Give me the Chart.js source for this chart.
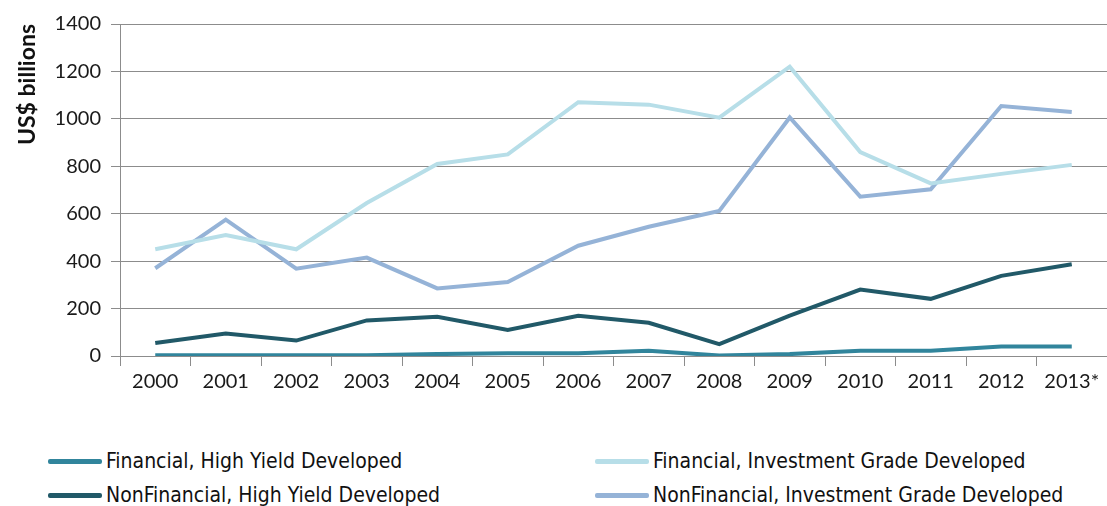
<!DOCTYPE html>
<html>
<head>
<meta charset="utf-8">
<script src="https://cdn.jsdelivr.net/npm/chart.js@4"></script>
<style>
  body { margin: 0; background: #fff; }
  #wrap { position: relative; width: 1107px; height: 506px; overflow: hidden; }
  #chart-box { position: absolute; left: 0; top: 0; width: 1107px; height: 410px; }
  .leg { position: absolute; display: flex; align-items: center; font-family: "Liberation Sans Narrow", "DejaVu Sans Condensed", sans-serif; font-size: 21px; color: #111; white-space: nowrap; }
  .leg span.mark { display: inline-block; width: 54px; height: 5px; border-radius: 2px; margin-right: 4px; }
</style>
</head>
<body>
<div id="wrap">
  <div id="chart-box"><canvas id="bonds"></canvas></div>
  <div id="legend"></div>
</div>
<script>
// categories + series (US$ billions)
const years = ['2000','2001','2002','2003','2004','2005','2006','2007','2008','2009','2010','2011','2012','2013*'];
const finHY = [3, 3, 3, 3, 8, 12, 12, 22, 2, 8, 22, 22, 40, 40];
const finIG = [450, 510, 450, 645, 810, 850, 1070, 1060, 1005, 1220, 860, 728, 768, 806];
const nonfinHY = [55, 95, 65, 150, 165, 110, 170, 140, 50, 170, 280, 241, 338, 387];
const nonfinIG = [370, 575, 368, 415, 285, 312, 465, 545, 612, 1006, 672, 703, 1054, 1029];
const yTicks = [0, 200, 400, 600, 800, 1000, 1200, 1400];

const seriesNames = [
  'Financial, High Yield Developed',
  'Financial, Investment Grade Developed',
  'NonFinancial, High Yield Developed',
  'NonFinancial, Investment Grade Developed'
];
const seriesColors = ['#31859c', '#b7dee8', '#215968', '#95b3d7'];
const seriesData = [finHY, finIG, nonfinHY, nonfinIG];

const gridGray = '#8c8c8c';
const tickFont = { family: 'Lato, "Open Sans", sans-serif', size: 20 };

const ctx = document.getElementById('bonds');
const chart = new Chart(ctx, {
  type: 'line',
  data: {
    labels: years,
    datasets: seriesData.map((d, i) => ({
      label: seriesNames[i],
      data: d,
      borderColor: seriesColors[i],
      backgroundColor: seriesColors[i],
      borderWidth: 4,
      pointRadius: 0,
      tension: 0,
      order: i === 0 ? 0 : 1
    }))
  },
  options: {
    responsive: true,
    maintainAspectRatio: false,
    animation: false,
    layout: { padding: { top: 24, right: 0, left: 0, bottom: 0 } },
    plugins: {
      legend: { display: false },
      tooltip: { enabled: false }
    },
    scales: {
      x: {
        offset: true,
        grid: { display: true, drawOnChartArea: false, offset: true, color: gridGray, tickLength: 10 },
        border: { display: false },
        ticks: { font: tickFont, color: '#1a1a1a', padding: 4, maxRotation: 0, autoSkip: false },
        afterFit: s => { s.height = 54; }
      },
      y: {
        min: 0,
        max: 1400,
        afterBuildTicks: s => { s.ticks = yTicks.map(v => ({ value: v })); },
        grid: { color: gridGray, tickLength: 9 },
        border: { display: true, color: gridGray },
        ticks: { font: tickFont, color: '#1a1a1a', padding: 10, callback: v => String(v) },
        title: { display: true, text: 'US$ billions', align: 'end', font: { family: 'Lato, "Open Sans", sans-serif', size: 23, weight: 'bold' }, color: '#111', padding: { top: 14, bottom: 4 } },
        afterFit: s => { s.width = 120; }
      }
    }
  }
});

// legend in two columns under the chart, built from the datasets
const legPos = [[48, 462], [595, 462], [48, 496], [595, 496]];
const legBox = document.getElementById('legend');
chart.data.datasets.forEach((ds, i) => {
  const el = document.createElement('div');
  el.className = 'leg';
  el.style.left = legPos[i][0] + 'px';
  el.style.top = (legPos[i][1] - 13) + 'px';
  el.innerHTML = '<span class="mark" style="background:' + ds.borderColor + '"></span>' + ds.label;
  legBox.appendChild(el);
});
</script>
</body>
</html>
